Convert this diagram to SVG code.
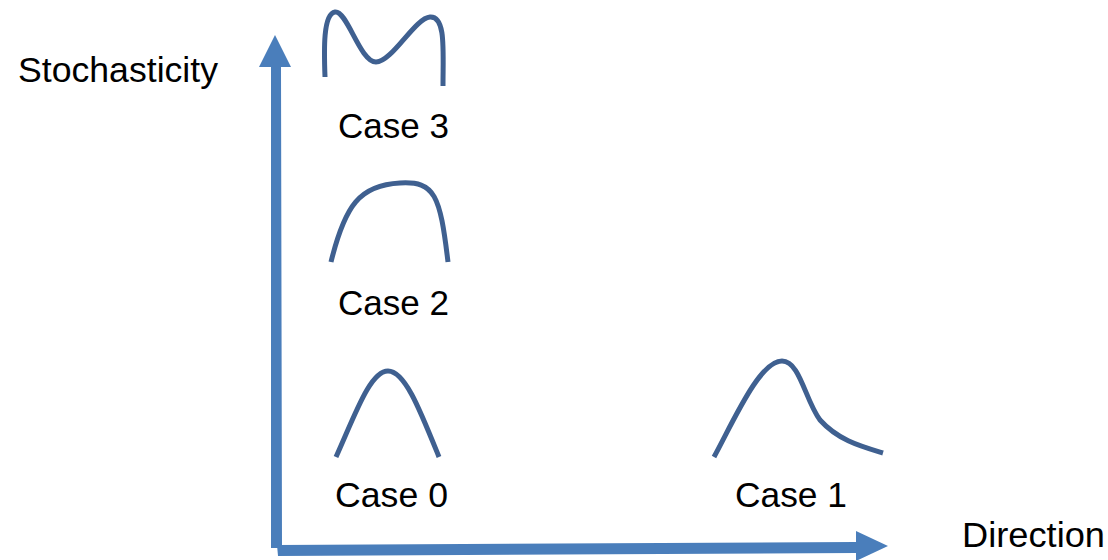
<svg xmlns="http://www.w3.org/2000/svg" width="1108" height="560" viewBox="0 0 1108 560">
<style>
.t{font-family:"Liberation Sans",Arial,sans-serif;font-size:35px;fill:#000}
.c{fill:none;stroke:#3f6090;stroke-width:5;stroke-linecap:butt;stroke-linejoin:round}
.ax{fill:#4a7ebb}
</style>
<rect width="1108" height="560" fill="#fff"/>
<g id="connectors">
<polygon class="ax" points="271,548 271,67 259,67 275,35 291,67 281,67 282,548"/>
<polygon class="ax" points="277,545 856,542 856,531 888,546 856,561 856,553 278,556"/>
</g>
<g id="axis-y-label"><text class="t" x="18" y="82" textLength="200" lengthAdjust="spacingAndGlyphs">Stochasticity</text></g>
<g id="axis-x-label"><text class="t" x="962" y="547" textLength="143" lengthAdjust="spacingAndGlyphs">Direction</text></g>
<g id="case3">
<path class="c" d="M325,77 C324,50 323,14 335,12 C347,10 360,62 376,62 C392,62 415,18 430,17 C446,16 443,50 443,86"/>
<text class="t" x="338" y="138" textLength="111" lengthAdjust="spacingAndGlyphs">Case 3</text>
</g>
<g id="case2">
<path class="c" d="M331,262 C345,205 360,185 400,183 C435,181 440,195 448,262"/>
<text class="t" x="338" y="315" textLength="111" lengthAdjust="spacingAndGlyphs">Case 2</text>
</g>
<g id="case0">
<path class="c" d="M336,457 C355,415 370,371 388,371 C405,371 420,410 439,457"/>
<text class="t" x="335" y="507" textLength="113" lengthAdjust="spacingAndGlyphs">Case 0</text>
</g>
<g id="case1">
<path class="c" d="M714,457 C735,418 760,361 782,361 C800,361 805,400 820,420 C838,440 860,446 883,453"/>
<text class="t" x="735" y="507" textLength="112" lengthAdjust="spacingAndGlyphs">Case 1</text>
</g>
</svg>
